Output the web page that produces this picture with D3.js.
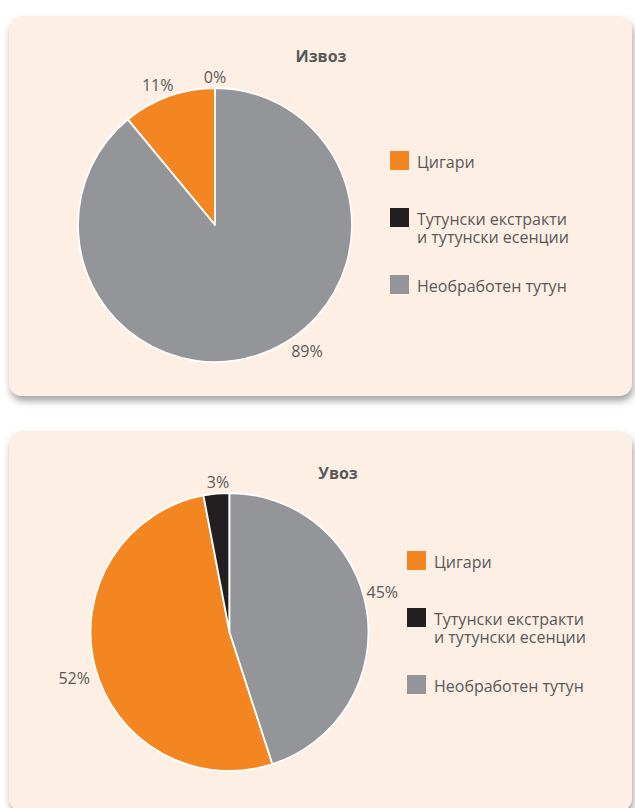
<!DOCTYPE html>
<html>
<head>
<meta charset="utf-8">
<script src="https://cdn.jsdelivr.net/npm/d3@7"></script>
<style>
  html, body { margin: 0; padding: 0; background: #ffffff; }
  svg { display: block; }
  text { font-family: "Open Sans", "Noto Sans", sans-serif; fill: #58595b; }
</style>
</head>
<body>
<svg id="chart" width="635" height="808"></svg>
<script>
// ---- Data ----
const categories = ["Цигари", "Тутунски екстракти\nи тутунски есенции", "Необработен тутун"];
const categoryColors = ["#f48622", "#231f20", "#939598"];
const exportTitle = "Извоз";
const exportValues = [11, 0, 89];
const importTitle = "Увоз";
const importValues = [52, 3, 45];

// ---- Layout (not data) ----
const W = 635, H = 808;
const panels = [
  { title: exportTitle, values: exportValues, y: 16, h: 380,
    cx: 215, cy: 225, r: 137, titleX: 321, titleY: 62,
    legendX: 390, legendY: 151,
    // label placement: angle shift (deg) from slice middle, and label distance from centre
    labelShift: [-2.5, 0, -16.3], labelDist: [151, 148, 156] },
  { title: importTitle, values: importValues, y: 431, h: 380,
    cx: 229.5, cy: 632, r: 139, titleX: 338, titleY: 479,
    legendX: 407, legendY: 551,
    labelShift: [-2.1, 1, -5.7], labelDist: [162, 150, 158] }
];
const legendRowOffsets = [0, 57, 124];
// drawing order clockwise from 12 o'clock: Необработен, Цигари, Тутунски
const sliceOrder = [2, 0, 1];

const svg = d3.select("#chart");
const defs = svg.append("defs");
const f = defs.append("filter").attr("id", "shadow")
  .attr("x", "-5%").attr("y", "-5%").attr("width", "112%").attr("height", "115%");
f.append("feDropShadow").attr("dx", 1.5).attr("dy", 5).attr("stdDeviation", 3.5)
  .attr("flood-color", "#5a5a5c").attr("flood-opacity", 0.55);

const colorScale = d3.scaleOrdinal().domain(d3.range(categories.length)).range(categoryColors);

panels.forEach(p => {
  const g = svg.append("g");
  g.append("rect")
    .attr("x", 9).attr("y", p.y).attr("width", 623).attr("height", p.h)
    .attr("rx", 13).attr("ry", 13)
    .attr("fill", "#fdefe3")
    .attr("filter", "url(#shadow)");

  g.append("text")
    .attr("x", p.titleX).attr("y", p.titleY)
    .attr("text-anchor", "middle")
    .attr("font-size", 16).attr("font-weight", "bold")
    .text(p.title);

  const pie = d3.pie()
    .value(i => p.values[i])
    .sort((a, b) => sliceOrder.indexOf(a) - sliceOrder.indexOf(b));
  const arcs = pie(d3.range(categories.length));
  const arc = d3.arc().innerRadius(0).outerRadius(p.r);

  const pg = g.append("g").attr("transform", `translate(${p.cx},${p.cy})`);
  pg.selectAll("path.slice")
    .data(arcs.filter(a => a.value > 0))
    .join("path")
    .attr("class", "slice")
    .attr("d", arc)
    .attr("fill", a => colorScale(a.data))
    .attr("stroke", "#ffffff")
    .attr("stroke-width", 1.8)
    .attr("stroke-linejoin", "round");

  const total = d3.sum(p.values);
  pg.selectAll("text.lbl")
    .data(arcs)
    .join("text")
    .attr("class", "lbl")
    .attr("text-anchor", "middle")
    .attr("font-size", 16)
    .attr("dy", "0.36em")
    .attr("x", a => {
      const ang = (a.startAngle + a.endAngle) / 2 + p.labelShift[a.data] * Math.PI / 180;
      return Math.sin(ang) * p.labelDist[a.data];
    })
    .attr("y", a => {
      const ang = (a.startAngle + a.endAngle) / 2 + p.labelShift[a.data] * Math.PI / 180;
      return -Math.cos(ang) * p.labelDist[a.data];
    })
    .text(a => Math.round(a.value / total * 100) + "%");

  const lg = g.append("g").attr("transform", `translate(${p.legendX},${p.legendY})`);
  const items = lg.selectAll("g.item")
    .data(d3.range(categories.length))
    .join("g")
    .attr("class", "item")
    .attr("transform", i => `translate(0,${legendRowOffsets[i]})`);
  items.append("rect")
    .attr("width", 19).attr("height", 19)
    .attr("fill", i => colorScale(i));
  items.append("text")
    .attr("x", 27).attr("y", 16.5)
    .attr("font-size", 16)
    .each(function(i) {
      const lines = categories[i].split("\n");
      d3.select(this).selectAll("tspan")
        .data(lines)
        .join("tspan")
        .attr("x", 27)
        .attr("dy", (d, k) => k === 0 ? 0 : 18)
        .text(d => d);
    });
});
</script>
</body>
</html>
